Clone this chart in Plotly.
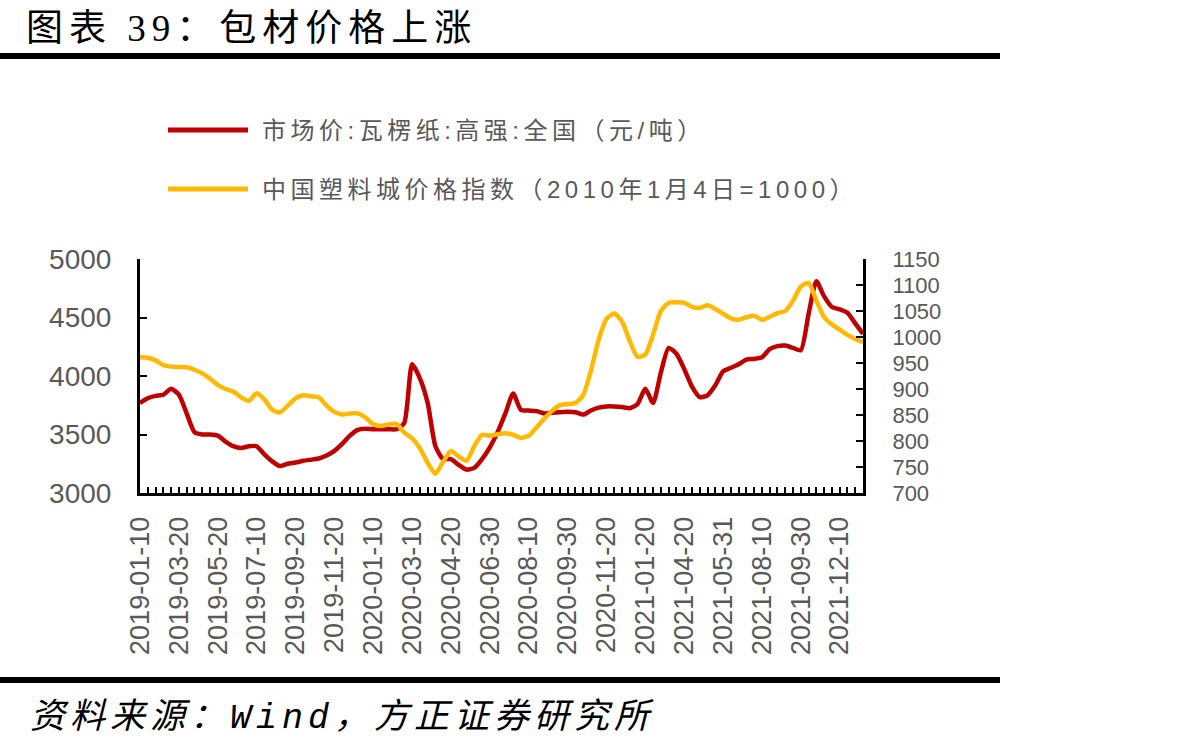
import plotly.graph_objects as go

# ---------------- data ----------------
tick_labels = ["2019-01-10", "2019-03-20", "2019-05-20", "2019-07-10", "2019-09-20",
               "2019-11-20", "2020-01-10", "2020-03-10", "2020-04-20", "2020-06-30",
               "2020-08-10", "2020-09-30", "2020-11-20", "2021-01-20", "2021-04-20",
               "2021-05-31", "2021-08-10", "2021-09-30", "2021-12-10"]
label_step = 5

name_red = "市场价:瓦楞纸:高强:全国（元/吨）"
name_yel = "中国塑料城价格指数（2010年1月4日=1000）"

red_values = [3770, 3810, 3830, 3840, 3890, 3840, 3680, 3520, 3500, 3500,
              3490, 3440, 3400, 3385, 3400, 3400, 3330, 3270, 3230, 3250,
              3260, 3275, 3285, 3295, 3320, 3360, 3420, 3490, 3540, 3550,
              3545, 3545, 3545, 3545, 3600, 4100, 3980, 3770, 3400, 3290,
              3290, 3240, 3200, 3215, 3290, 3390, 3520, 3680, 3850, 3710,
              3705, 3700, 3680, 3685, 3690, 3695, 3690, 3670, 3705, 3730,
              3740, 3740, 3735, 3725, 3760, 3890, 3770, 4030, 4240, 4190,
              4060, 3910, 3820, 3835, 3920, 4040, 4070, 4100, 4140, 4146,
              4160, 4230, 4255, 4260, 4240, 4220, 4530, 4810, 4680, 4590,
              4570, 4540, 4450, 4360]

yellow_values = [961, 960, 955, 946, 943, 942, 942, 937, 930, 920,
                 908, 900, 895, 884, 877, 892, 880, 860, 855, 868,
                 882, 888, 886, 884, 868, 856, 851, 853, 853, 845,
                 832, 829, 832, 833, 816, 805, 786, 758, 737, 760,
                 781, 770, 762, 790, 812, 810, 813, 815, 812, 806,
                 810, 826, 843, 858, 869, 871, 873, 888, 935, 995,
                 1035, 1045, 1030, 992, 962, 966, 1005, 1050, 1066, 1067,
                 1066, 1058, 1056, 1061, 1054, 1045, 1036, 1033, 1038, 1041,
                 1033, 1039, 1046, 1050, 1070, 1097, 1104, 1070, 1038, 1024,
                 1014, 1004, 996, 990]

x_idx = list(range(len(red_values)))
tick_positions = [i * label_step for i in range(len(tick_labels))]

RED = "#C00000"
YEL = "#FFB900"
GRAY = "#595959"

# ---------------- layout geometry ----------------
W, H = 1195, 751
L, R, T, B = 140, 863, 259, 493


def px(x):
    return (x - L) / (R - L)


def py(y):
    return (B - y) / (B - T)


fig = go.Figure()
fig.add_trace(go.Scatter(x=x_idx, y=red_values, name=name_red, mode="lines",
                         line=dict(color=RED, width=4.5, shape="spline", smoothing=0.6),
                         yaxis="y"))
fig.add_trace(go.Scatter(x=x_idx, y=yellow_values, name=name_yel, mode="lines",
                         line=dict(color=YEL, width=4.5, shape="spline", smoothing=0.6),
                         yaxis="y2"))

SANS = "Liberation Sans, Arial, sans-serif"

fig.update_layout(
    width=W, height=H,
    margin=dict(l=L, r=W - R, t=T, b=H - B),
    paper_bgcolor="white", plot_bgcolor="white",
    showlegend=False,
    xaxis=dict(range=[0, len(red_values) - 1], tickmode="array",
               tickvals=tick_positions, ticktext=tick_labels, tickangle=-90,
               tickfont=dict(family=SANS, size=27, color=GRAY),
               ticks="inside", ticklen=6, tickwidth=2, tickcolor="black",
               minor=dict(tickvals=x_idx, ticks="inside", ticklen=6, tickwidth=2,
                          tickcolor="black"),
               showline=True, linecolor="black", linewidth=3,
               showgrid=False, zeroline=False, ticklabelstandoff=10),
    yaxis=dict(range=[3000, 5000], dtick=500,
               tickfont=dict(family=SANS, size=28, color=GRAY),
               ticks="inside", ticklen=7, tickwidth=2, tickcolor="black",
               showline=True, linecolor="black", linewidth=3,
               showgrid=False, zeroline=False, ticklabelstandoff=20),
    yaxis2=dict(range=[700, 1150], dtick=50, overlaying="y", side="right",
                tickfont=dict(family=SANS, size=22, color=GRAY),
                ticks="inside", ticklen=7, tickwidth=2, tickcolor="black",
                showline=True, linecolor="black", linewidth=3,
                showgrid=False, zeroline=False, ticklabelstandoff=22),
)

shapes = [
    dict(type="rect", xref="paper", yref="paper", x0=px(0), x1=px(1000),
         y0=py(59), y1=py(53), fillcolor="black", line=dict(width=0)),
    dict(type="rect", xref="paper", yref="paper", x0=px(0), x1=px(1000),
         y0=py(683), y1=py(677), fillcolor="black", line=dict(width=0)),
    dict(type="line", xref="paper", yref="paper", x0=px(168), x1=px(248),
         y0=py(130), y1=py(130), line=dict(color=RED, width=5)),
    dict(type="line", xref="paper", yref="paper", x0=px(168), x1=px(248),
         y0=py(189), y1=py(189), line=dict(color=YEL, width=5)),
]
fig.update_layout(shapes=shapes)

cjk = "Noto Sans CJK SC"
annotations = [
    dict(text='<span style="letter-spacing:6px">图表 39：包材价格上涨</span>',
         x=px(24), y=py(28), xanchor="left", yanchor="middle",
         font=dict(family="Liberation Serif, " + cjk, size=37, color="black")),
    dict(text='<span style="letter-spacing:4.5px">' + name_red + '</span>',
         x=px(260), y=py(130), xanchor="left", yanchor="middle",
         font=dict(family="Liberation Sans, " + cjk, size=24, color=GRAY)),
    dict(text='<span style="letter-spacing:4.5px">' + name_yel + '</span>',
         x=px(260), y=py(189), xanchor="left", yanchor="middle",
         font=dict(family="Liberation Sans, " + cjk, size=24, color=GRAY)),
    dict(text='<i><span style="letter-spacing:5px">资料来源：Wind，方正证券研究所</span></i>',
         x=px(28), y=py(718), xanchor="left", yanchor="middle",
         font=dict(family="Liberation Mono, " + cjk, size=35, color="black")),
]
for a in annotations:
    a.update(xref="paper", yref="paper", showarrow=False)
fig.update_layout(annotations=annotations)

fig.write_html("out.html")
